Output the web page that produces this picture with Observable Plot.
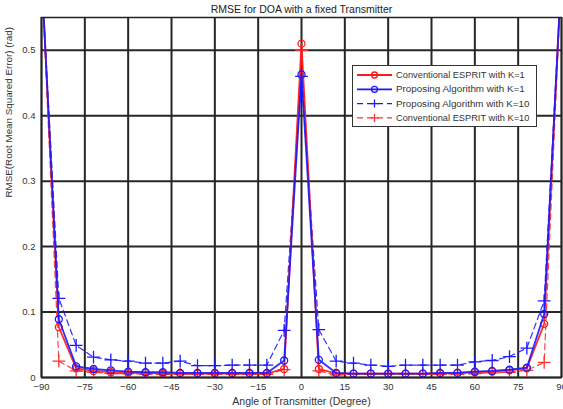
<!DOCTYPE html>
<html>
<head>
<meta charset="utf-8">
<script src="https://cdn.jsdelivr.net/npm/d3@7"></script>
<script src="https://cdn.jsdelivr.net/npm/@observablehq/plot@0.6"></script>
<style>
  html, body { margin: 0; padding: 0; background: #fff; }
  #wrap { position: relative; width: 563px; height: 409px; font-family: "Liberation Sans", Arial, sans-serif; }
  #legend { position: absolute; left: 352px; top: 65px; }
</style>
</head>
<body>
<div id="wrap"><div id="chart"></div><div id="legend"></div></div>
<script>
const title = "RMSE for DOA with a fixed Transmitter";
const xLabel = "Angle of Transmitter (Degree)";
const yLabel = "RMSE(Root Mean Squared Error) (rad)";
const xTicks = [-90, -75, -60, -45, -30, -15, 0, 15, 30, 45, 60, 75, 90];
const yTicks = [0, 0.1, 0.2, 0.3, 0.4, 0.5];

const angles = [-90,-84,-78,-72,-66,-60,-54,-48,-42,-36,-30,-24,-18,-12,-6,0,6,12,18,24,30,36,42,48,54,60,66,72,78,84,90];

const convK1 = [0.62,0.077,0.014,0.010,0.008,0.007,0.007,0.006,0.006,0.006,0.006,0.006,0.006,0.006,0.013,0.51,0.013,0.006,0.006,0.006,0.006,0.006,0.006,0.006,0.007,0.008,0.009,0.011,0.014,0.082,0.62];
const propK1 = [0.62,0.089,0.017,0.013,0.011,0.009,0.008,0.008,0.007,0.007,0.007,0.007,0.007,0.007,0.026,0.463,0.027,0.007,0.006,0.006,0.006,0.006,0.006,0.007,0.007,0.009,0.010,0.012,0.015,0.097,0.62];
const propK10 = [0.62,0.121,0.049,0.031,0.027,0.025,0.022,0.022,0.025,0.018,0.018,0.019,0.019,0.019,0.072,0.46,0.073,0.025,0.022,0.019,0.017,0.019,0.019,0.019,0.019,0.024,0.026,0.032,0.045,0.117,0.62];
const convK10 = [0.62,0.025,0.010,0.008,0.006,0.006,0.005,0.005,0.005,0.005,0.005,0.005,0.005,0.005,0.012,0.50,0.010,0.004,0.005,0.005,0.005,0.005,0.005,0.005,0.005,0.006,0.007,0.008,0.011,0.023,0.62];

const seriesNames = ["Conventional ESPRIT with K=1", "Proposing Algorithm with K=1", "Proposing Algorithm with K=10", "Conventional ESPRIT with K=10"];
const seriesValues = [convK1, propK1, propK10, convK10];
const seriesColors = ["#ff1a1a", "#1a1aff", "#1a1aff", "#ff3030"];
const seriesDash = [null, null, "6,4", "6,4"];
const seriesSymbol = ["circle", "circle", "plus", "plus"];

const rows = seriesNames.map((name, i) => angles.map((a, j) => ({series: name, x: a, y: seriesValues[i][j]})));

const marks = [
  Plot.gridX(xTicks, {stroke: "#262626", strokeOpacity: 1, strokeWidth: 2}),
  Plot.gridY(yTicks, {stroke: "#262626", strokeOpacity: 1, strokeWidth: 2}),
];
[3, 2, 0, 1].forEach(i => {
  marks.push(Plot.line(rows[i], {x: "x", y: "y", stroke: seriesColors[i], strokeWidth: seriesDash[i] ? 1.2 : 1.8, strokeDasharray: seriesDash[i], clip: true, strokeOpacity: 0.9}));
  marks.push(Plot.dot(rows[i], {x: "x", y: "y", stroke: seriesColors[i], symbol: seriesSymbol[i], r: seriesSymbol[i] === "circle" ? 3.5 : 4.2, strokeWidth: 1.3, fill: "none", clip: true}));
});
marks.push(
  Plot.frame({stroke: "#222", strokeWidth: 1.5}),
  Plot.axisX(xTicks, {tickSize: 0, tickPadding: 6, fontSize: 9.5, fill: "#333", label: null}),
  Plot.axisY(yTicks, {tickSize: 0, tickPadding: 6, fontSize: 9.5, fill: "#333", label: null, tickFormat: d => d === 0 ? "0" : String(d)}),
  Plot.text([title], {frameAnchor: "top", dy: -12, fontSize: 10.5, fill: "#222"}),
  Plot.text([xLabel], {frameAnchor: "bottom", dy: 27, fontSize: 10.5, fill: "#333"}),
  Plot.text([yLabel], {frameAnchor: "left", dx: -33, rotate: -90, fontSize: 9.8, fill: "#333"})
);

const chart = Plot.plot({
  width: 563,
  height: 409,
  marginTop: 17,
  marginLeft: 41,
  marginRight: 2,
  marginBottom: 32,
  x: {domain: [-90, 90]},
  y: {domain: [0, 0.55]},
  style: {fontFamily: "'Liberation Sans', Arial, sans-serif", background: "#fff"},
  marks
});
document.getElementById("chart").appendChild(chart);

// legend
const lw = 185, lh = 62;
const svg = d3.select("#legend").append("svg").attr("width", lw).attr("height", lh)
  .style("font-family", "'Liberation Sans', Arial, sans-serif");
svg.append("rect").attr("x", 0.5).attr("y", 0.5).attr("width", lw - 1).attr("height", lh - 1)
  .attr("fill", "#fff").attr("stroke", "#333").attr("stroke-width", 1);
seriesNames.forEach((name, i) => {
  const yy = 10 + i * 14.3;
  const g = svg.append("g");
  g.append("line").attr("x1", 5).attr("x2", 40).attr("y1", yy).attr("y2", yy)
    .attr("stroke", seriesColors[i]).attr("stroke-width", seriesDash[i] ? 1.2 : 1.8)
    .attr("stroke-dasharray", seriesDash[i]);
  if (seriesSymbol[i] === "circle") {
    g.append("circle").attr("cx", 22.5).attr("cy", yy).attr("r", 3).attr("fill", "none").attr("stroke", seriesColors[i]).attr("stroke-width", 1.3);
  } else {
    g.append("path").attr("d", `M${18.5},${yy}H${26.5}M${22.5},${yy-4}V${yy+4}`).attr("stroke", seriesColors[i]).attr("stroke-width", 1.3);
  }
  g.append("text").attr("x", 44).attr("y", yy).attr("dy", "0.35em").attr("font-size", 8.5).attr("fill", "#333")
    .attr("textLength", name.length * 4.6).attr("lengthAdjust", "spacingAndGlyphs").text(name);
});
</script>
</body>
</html>
